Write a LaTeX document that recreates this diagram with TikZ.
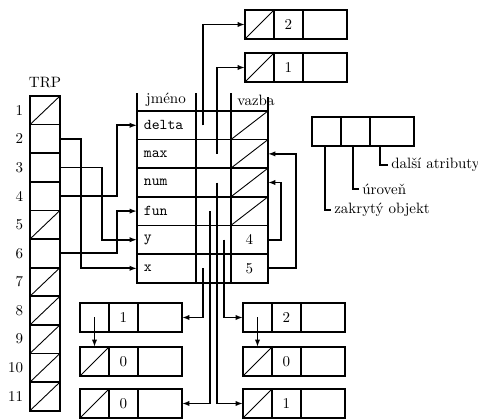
\documentclass[tikz,border=0pt]{standalone}
\usepackage{tikz}
\usetikzlibrary{arrows.meta, positioning}

\begin{document}
\begin{tikzpicture}[
    x=0.6667pt, y=-0.6667pt,
    cell/.style={rectangle, draw=black, line width=1.2pt, inner sep=0pt, outer sep=0pt, minimum height=19.07pt},
    nil/.style={cell, path picture={\draw[line width=0.6pt] (path picture bounding box.south west) -- (path picture bounding box.north east);}},
    trpcell/.style={minimum width=20pt},
    namecell/.style={minimum width=39.3pt, text width=30pt, inner xsep=4.65pt, align=left, font=\ttfamily},
    midcell/.style={minimum width=23.3pt},
    linkcell/.style={minimum width=24.7pt},
    boxcell/.style={minimum width=19.33pt, minimum height=19.33pt},
    widecell/.style={minimum width=29.33pt, minimum height=19.33pt},
    line/.style={line width=1.2pt},
    arrow/.style={-{Latex[length=5pt, width=3.6pt]}, line width=1.2pt},
    lbl/.style={inner sep=2pt, anchor=west}
]
\useasboundingbox (0,0) rectangle (478,419);

% === TRP (left column) ===
\node (trp) at (45,83) {TRP};
\node[nil, trpcell, anchor=north west] (trp1) at (30,96) {};
\node[cell, trpcell, below=0pt of trp1] (trp2) {};
\node[cell, trpcell, below=0pt of trp2] (trp3) {};
\node[cell, trpcell, below=0pt of trp3] (trp4) {};
\node[nil, trpcell, below=0pt of trp4] (trp5) {};
\node[cell, trpcell, below=0pt of trp5] (trp6) {};
\node[nil, trpcell, below=0pt of trp6] (trp7) {};
\node[nil, trpcell, below=0pt of trp7] (trp8) {};
\node[nil, trpcell, below=0pt of trp8] (trp9) {};
\node[nil, trpcell, below=0pt of trp9] (trp10) {};
\node[nil, trpcell, below=0pt of trp10] (trp11) {};

% row numbers
\node[anchor=east] (rl1) at ([xshift=-1pt]trp1.west) {1};
\node[anchor=east] (rl2) at ([xshift=-1pt]trp2.west) {2};
\node[anchor=east] (rl3) at ([xshift=-1pt]trp3.west) {3};
\node[anchor=east] (rl4) at ([xshift=-1pt]trp4.west) {4};
\node[anchor=east] (rl5) at ([xshift=-1pt]trp5.west) {5};
\node[anchor=east] (rl6) at ([xshift=-1pt]trp6.west) {6};
\node[anchor=east] (rl7) at ([xshift=-1pt]trp7.west) {7};
\node[anchor=east] (rl8) at ([xshift=-1pt]trp8.west) {8};
\node[anchor=east] (rl9) at ([xshift=-1pt]trp9.west) {9};
\node[anchor=east] (rl10) at ([xshift=-1pt]trp10.west) {10};
\node[anchor=east] (rl11) at ([xshift=-1pt]trp11.west) {11};

% === Symbol table (center) ===
\node[cell, namecell, anchor=north west] (name1) at (137,111) {delta};
\node[cell, namecell, below=0pt of name1] (name2) {max};
\node[cell, namecell, below=0pt of name2] (name3) {num};
\node[cell, namecell, below=0pt of name3] (name4) {fun};
\node[cell, namecell, below=0pt of name4] (name5) {y};
\node[cell, namecell, below=0pt of name5] (name6) {x};

\node[cell, midcell, right=0pt of name1] (mid1) {};
\node[cell, midcell, right=0pt of name2] (mid2) {};
\node[cell, midcell, right=0pt of name3] (mid3) {};
\node[cell, midcell, right=0pt of name4] (mid4) {};
\node[cell, midcell, right=0pt of name5] (mid5) {};
\node[cell, midcell, right=0pt of name6] (mid6) {};

\node[nil, linkcell, right=0pt of mid1] (vaz1) {};
\node[nil, linkcell, right=0pt of mid2] (vaz2) {};
\node[nil, linkcell, right=0pt of mid3] (vaz3) {};
\node[nil, linkcell, right=0pt of mid4] (vaz4) {};
\node[cell, linkcell, right=0pt of mid5] (vaz5) {4};
\node[cell, linkcell, right=0pt of mid6] (vaz6) {5};

% header
\draw[line] (name1.north west) -- ++(0,-18);
\draw[line] (name1.north east) -- ++(0,-18);
\draw[line] (mid1.north east) -- ++(0,-18);
\draw[line] (vaz1.north east) -- ++(0,-14);
\node (hname) at (166,100) {jméno};
\node (hlink) at (256,100) {vazba};

% === Records (top) ===
\node[nil, boxcell, anchor=north west] (ta1) at (245,10) {};
\node[cell, boxcell, right=0pt of ta1] (ta2) {2};
\node[cell, widecell, right=0pt of ta2] (ta3) {};

\node[nil, boxcell, anchor=north west] (tb1) at (245,53) {};
\node[cell, boxcell, right=0pt of tb1] (tb2) {1};
\node[cell, widecell, right=0pt of tb2] (tb3) {};

% === Records (bottom left) ===
\node[cell, boxcell, anchor=north west] (la1) at (80,303) {};
\node[cell, boxcell, right=0pt of la1] (la2) {1};
\node[cell, widecell, right=0pt of la2] (la3) {};

\node[nil, boxcell, anchor=north west] (lb1) at (80,347) {};
\node[cell, boxcell, right=0pt of lb1] (lb2) {0};
\node[cell, widecell, right=0pt of lb2] (lb3) {};

\node[nil, boxcell, anchor=north west] (lc1) at (80,389) {};
\node[cell, boxcell, right=0pt of lc1] (lc2) {0};
\node[cell, widecell, right=0pt of lc2] (lc3) {};

% === Records (bottom right) ===
\node[cell, boxcell, anchor=north west] (ra1) at (243,303) {};
\node[cell, boxcell, right=0pt of ra1] (ra2) {2};
\node[cell, widecell, right=0pt of ra2] (ra3) {};

\node[nil, boxcell, anchor=north west] (rb1) at (243,347) {};
\node[cell, boxcell, right=0pt of rb1] (rb2) {0};
\node[cell, widecell, right=0pt of rb2] (rb3) {};

\node[nil, boxcell, anchor=north west] (rc1) at (243,389) {};
\node[cell, boxcell, right=0pt of rc1] (rc2) {1};
\node[cell, widecell, right=0pt of rc2] (rc3) {};

% === Legend (right) ===
\node[cell, boxcell, anchor=north west] (leg1) at (312,117) {};
\node[cell, boxcell, right=0pt of leg1] (leg2) {};
\node[cell, widecell, right=0pt of leg2] (leg3) {};
\node[lbl] (lzak) at (331,210) {zakrytý objekt};
\node[lbl] (lurov) at (359,189) {úroveň};
\node[lbl] (ldal) at (388,165) {další atributy};
\draw[line] ([xshift=-1pt]leg1.south) |- (lzak.west);
\draw[line] ([xshift=-1.67pt]leg2.south) |- (lurov.west);
\draw[line] ([xshift=-8pt]leg3.south) |- (ldal.west);

% === Arrows ===
\draw[arrow] (trp2.east) -- ++(21,0) |- (name6.west);
\draw[arrow] (trp3.east) -- ++(42,0) |- (name5.west);
\draw[arrow] (trp4.east) -- ++(57,0) |- (name1.west);
\draw[arrow] (trp6.east) -- ++(57,0) |- (name4.west);

\draw[arrow] (vaz5.east) -- ++(13,0) |- (vaz3.east);
\draw[arrow] (vaz6.east) -- ++(28,0) |- (vaz2.east);

\draw[arrow] ([xshift=-7pt]mid1.center) |- (ta1.west);
\draw[arrow] ([xshift=2.33pt]mid2.center) |- (tb1.west);
\draw[arrow] ([xshift=2.33pt]mid3.center) |- (rc1.west);
\draw[arrow] ([xshift=-2.33pt]mid4.center) |- (lc3.east);
\draw[arrow] ([xshift=7pt]mid5.center) |- (ra1.west);
\draw[arrow] ([xshift=-7pt]mid6.center) |- (la3.east);

\draw[arrow] (la1.center) -- (lb1.north);
\draw[arrow] (ra1.center) -- (rb1.north);

\end{tikzpicture}
\end{document}
